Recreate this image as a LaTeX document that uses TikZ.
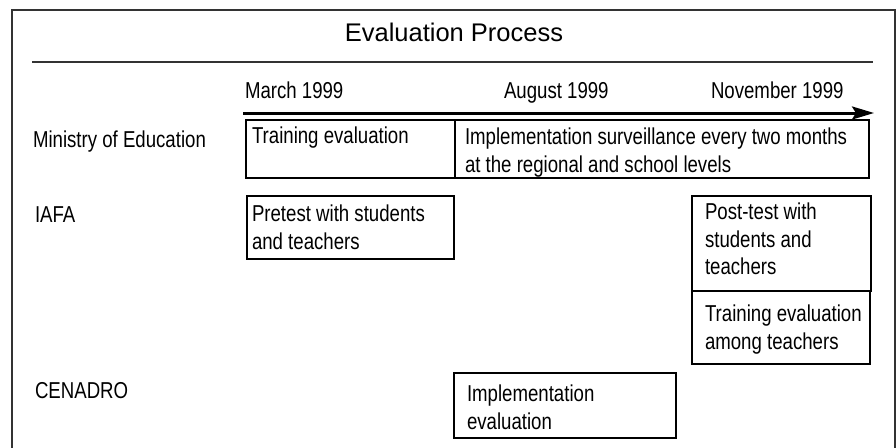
\documentclass[tikz,border=0pt]{standalone}
\usepackage{fontspec}
\setmainfont{Liberation Sans}
\newfontfamily\condfont[FakeStretch=0.81]{Liberation Sans}
\usetikzlibrary{arrows.meta}
\definecolor{framegray}{HTML}{333333}
\begin{document}
\begin{tikzpicture}[x=1pt,y=-1pt,
  every node/.style={inner sep=0pt,outer sep=0pt},
  lbl/.style={anchor=base west,font=\condfont\fontsize{23}{27.5}\selectfont},
  boxtext/.style={anchor=north west,align=left,font=\condfont\fontsize{23}{27.5}\selectfont},
  taskbox/.style={draw=black,line width=1.2pt,anchor=north west},
]
\useasboundingbox (0,0) rectangle (896,447);
\clip (0,0) rectangle (896,447);
% outer frame
\draw[framegray,line width=1.5pt] (12,480) -- (12,10) -- (895,10) -- (895,480);
% title and rule
\node[font=\fontsize{25.5}{30}\selectfont,anchor=base] (title) at (454,41) {Evaluation Process};
\coordinate (ruleL) at (32,62);
\coordinate (ruleR) at (873,62);
\draw[framegray,line width=1.2pt] (ruleL) -- (ruleR);
% time axis
\node[lbl] (mar) at (245,98) {March 1999};
\node[lbl] (aug) at (504,98) {August 1999};
\node[lbl] (nov) at (711,98) {November 1999};
\coordinate (axL) at (243,113);
\coordinate (axR) at (874,113);
\draw[line width=3pt,-{Stealth[length=22pt,width=13pt,inset=4pt]}] (axL) -- (axR);
% row labels
\node[lbl] (moe) at (33,147) {Ministry of Education};
\node[lbl] (iafa) at (35,222) {IAFA};
\node[lbl] (cen) at (35,398) {CENADRO};
% Ministry of Education
\node[taskbox,minimum width=209pt,minimum height=58pt] (tr) at (246,120) {};
\node[taskbox,minimum width=414pt,minimum height=58pt] (impl) at (455,120) {};
\draw[line width=2pt] (tr.north east) -- (tr.south east);
\node[boxtext] (trt) at (252,127) {Training evaluation};
\node[boxtext] (implt) at (465,128) {Implementation surveillance every two months\\at the regional and school levels};
% IAFA
\node[taskbox,minimum width=207pt,minimum height=63pt] (pre) at (247,196) {};
\node[boxtext] (pret) at (252,205) {Pretest with students\\and teachers};
\node[taskbox,minimum width=179pt,minimum height=95pt] (post) at (692,196) {};
\node[boxtext] (postt) at (705,203) {Post-test with\\students and\\teachers};
\node[taskbox,minimum width=178pt,minimum height=73pt] (tea) at (692,291) {};
\node[boxtext] (teat) at (705,305) {Training evaluation\\among teachers};
% CENADRO
\node[taskbox,minimum width=222pt,minimum height=65pt] (ie) at (454,373) {};
\node[boxtext] (iet) at (467,385) {Implementation\\evaluation};
\end{tikzpicture}
\end{document}
